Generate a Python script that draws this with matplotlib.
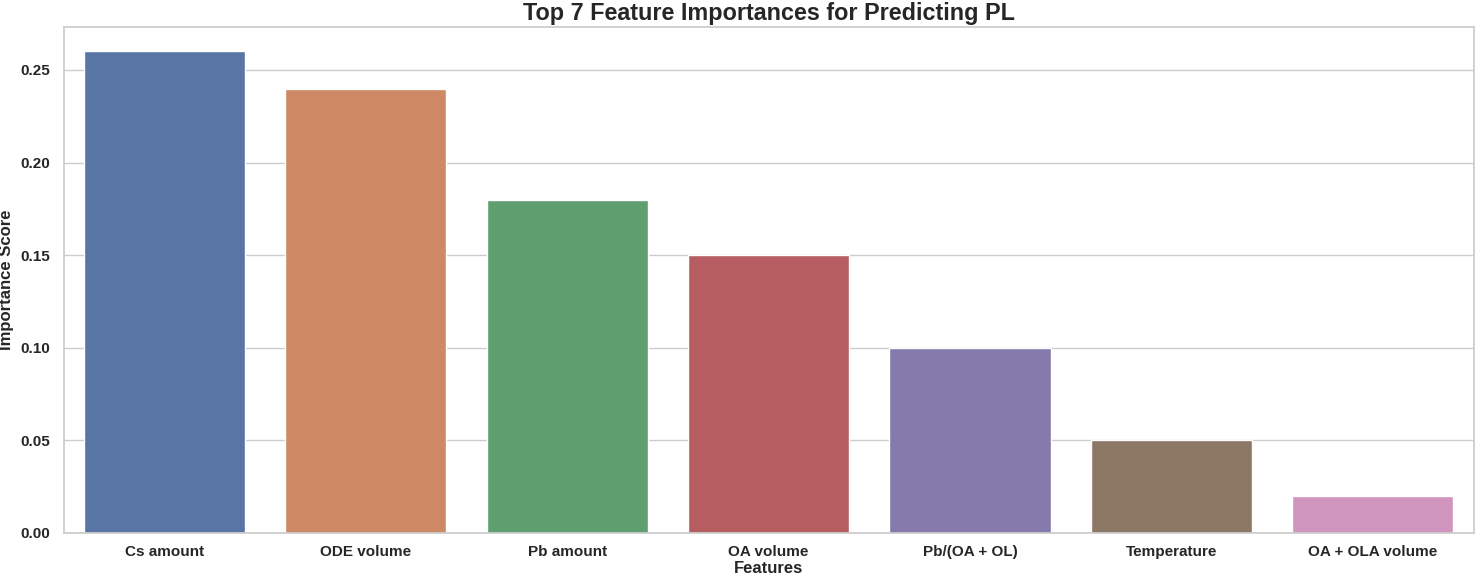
import matplotlib
matplotlib.use('Agg')
import matplotlib.pyplot as plt
import seaborn as sns

features = ['Cs amount', 'ODE volume', 'Pb amount', 'OA volume',
            'Pb/(OA + OL)', 'Temperature', 'OA + OLA volume']
importances = [0.26, 0.24, 0.18, 0.15, 0.10, 0.05, 0.02]

sns.set_theme(style='whitegrid')
plt.rcParams['font.family'] = ['Liberation Sans', 'DejaVu Sans']

fig, ax = plt.subplots(figsize=(14.78, 5.83), dpi=100)
# seaborn barplot default saturation of 0.75
colors = [sns.desaturate(c, 0.75) for c in sns.color_palette('deep', len(features))]
ax.bar(features, importances, color=colors, width=0.8)
ax.set_xlim(-0.5, len(features) - 0.5)

ax.set_title('Top 7 Feature Importances for Predicting PL', fontsize=16.8,
             fontweight='bold', pad=5)
ax.set_xlabel('Features', fontsize=12, fontweight='bold', labelpad=1)
ax.set_ylabel('Importance Score', fontsize=12, fontweight='bold', labelpad=4)
ax.set_yticks([0.0, 0.05, 0.10, 0.15, 0.20, 0.25])
ax.set_yticklabels(['0.00', '0.05', '0.10', '0.15', '0.20', '0.25'])
for lbl in ax.get_xticklabels() + ax.get_yticklabels():
    lbl.set_fontweight('bold')
    lbl.set_fontsize(11)
ax.tick_params(axis='y', pad=4)
ax.tick_params(axis='x', pad=3)
ax.grid(axis='x', visible=False)
ax.set_axisbelow(True)

plt.subplots_adjust(left=0.043, right=0.997, top=0.953, bottom=0.086)
plt.savefig('out.png', dpi=100)
